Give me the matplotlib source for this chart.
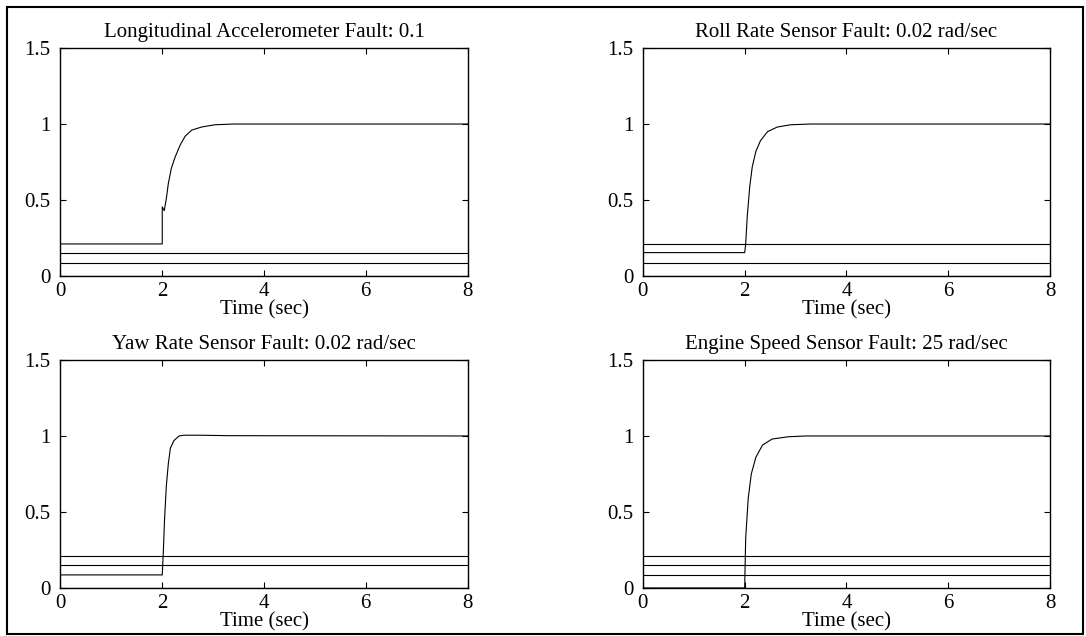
import matplotlib
matplotlib.use("Agg")
import matplotlib.pyplot as plt
from matplotlib.patches import Rectangle

plt.rcParams['font.family'] = ['Liberation Serif', 'DejaVu Serif']

# titles of the four fault cases
titles = [
    "Longitudinal Accelerometer Fault: 0.1",
    "Roll Rate Sensor Fault: 0.02 rad/sec",
    "Yaw Rate Sensor Fault: 0.02 rad/sec",
    "Engine Speed Sensor Fault: 25 rad/sec",
]

# steady levels of the four residuals (long accel, roll, yaw, engine)
levels = [0.211, 0.154, 0.086, 0.0]

# faulty residual in each case, index into levels
faulty = [0, 1, 2, 3]

# response of the faulty residual after the fault
resp_t = [
    [2.0, 2.0, 2.04, 2.085, 2.12, 2.18, 2.25, 2.35, 2.45, 2.58, 2.77, 3.03, 3.4, 8.0],
    [2.0, 2.02, 2.05, 2.10, 2.15, 2.22, 2.31, 2.45, 2.64, 2.9, 3.3, 8.0],
    [2.0, 2.02, 2.045, 2.08, 2.12, 2.16, 2.23, 2.33, 2.43, 2.75, 3.3, 8.0],
    [2.0, 2.02, 2.07, 2.13, 2.22, 2.35, 2.54, 2.86, 3.2, 8.0],
]
resp_v = [
    [0.211, 0.455, 0.43, 0.52, 0.61, 0.71, 0.78, 0.86, 0.92, 0.96, 0.98, 0.995, 1.0, 1.0],
    [0.154, 0.21, 0.39, 0.59, 0.72, 0.82, 0.89, 0.95, 0.98, 0.995, 1.0, 1.0],
    [0.086, 0.23, 0.45, 0.67, 0.82, 0.92, 0.97, 1.0, 1.005, 1.005, 1.002, 1.0],
    [0.0, 0.33, 0.59, 0.75, 0.86, 0.94, 0.98, 0.995, 1.0, 1.0],
]

fig = plt.figure(figsize=(10.86, 6.36), dpi=100)
fig.patches.append(Rectangle((0.0065, 0.003), 0.9905, 0.986, transform=fig.transFigure,
                             fill=False, edgecolor='black', linewidth=1.5))

positions = [
    [0.0557, 0.566, 0.3748, 0.3585],
    [0.592, 0.566, 0.3748, 0.3585],
    [0.0557, 0.0755, 0.3748, 0.3585],
    [0.592, 0.0755, 0.3748, 0.3585],
]

for k in range(4):
    ax = fig.add_axes(positions[k])
    for i, lv in enumerate(levels):
        if i == faulty[k]:
            ax.plot([0, 2.0] + resp_t[k], [lv, lv] + resp_v[k], color='black', lw=0.8)
        else:
            ax.plot([0, 8], [lv, lv], color='black', lw=0.8)
    ax.set_xlim(0, 8)
    ax.set_ylim(0, 1.5)
    ax.set_xticks([0, 2, 4, 6, 8])
    ax.set_xticklabels(['0', '2', '4', '6', '8'])
    ax.set_yticks([0, 0.5, 1, 1.5])
    ax.set_yticklabels(['0', '0.5', '1', '1.5'])
    ax.tick_params(direction='in', top=True, right=True, length=4, labelsize=15)
    ax.tick_params(axis='x', pad=4)
    ax.tick_params(axis='y', pad=7)
    ax.set_title(titles[k], fontsize=15, pad=8)
    ax.set_xlabel("Time (sec)", fontsize=15, labelpad=0)
    for s in ax.spines.values():
        s.set_linewidth(1.0)

fig.savefig("out.png", dpi=100)
